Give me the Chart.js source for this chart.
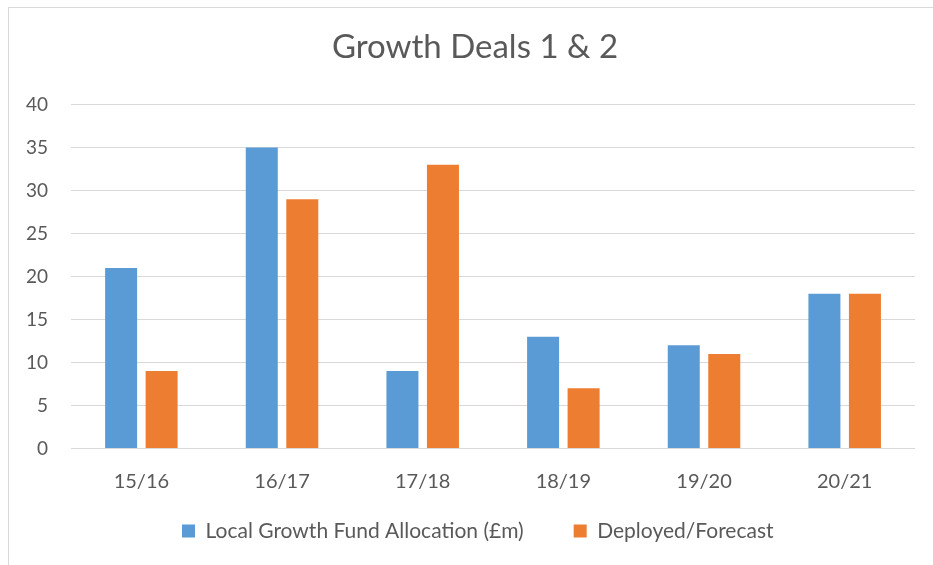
<!DOCTYPE html>
<html>
<head>
<meta charset="utf-8">
<script src="https://cdn.jsdelivr.net/npm/chart.js@4/dist/chart.umd.min.js"></script>
<style>
  html, body { margin: 0; padding: 0; background: #fff; }
  #frame { position: absolute; left: 8px; top: 7px; width: 1000px; height: 700px; border: 1px solid #d9d9d9; }
  #wrap { position: absolute; left: 0; top: 0; width: 933px; height: 565px; }
</style>
</head>
<body>
<div id="frame"></div>
<div id="wrap"><canvas id="chart" width="933" height="565"></canvas></div>
<script>
// Daten aus dem Diagramm
const labels = ["15/16", "16/17", "17/18", "18/19", "19/20", "20/21"];
const allocation = [21, 35, 9, 13, 12, 18];
const deployed = [9, 29, 33, 7, 11, 18];
const yTicks = [0, 5, 10, 15, 20, 25, 30, 35, 40];

const textColor = "#595959";
const gridColor = "#d9d9d9";
const fontName = "Lato, 'Open Sans', sans-serif";
const legendFont = 21;
const legendGap = 50;

// Legende und Titel verschieben wie im Original
const boxShift = {
  id: "boxShift",
  afterLayout(chart) {
    const tb = chart.titleBlock;
    if (tb) {
      const d = 475 - (tb.left + tb.right) / 2;
      tb.left += d;
      tb.right += d;
    }
    const lg = chart.legend;
    lg.options.labels.padding = legendGap;   // Abstand zwischen den Einträgen
    lg.left = 182 - legendGap;
    lg.right = 933;
    lg.top = 531 - legendGap - legendFont / 2;
    lg.bottom = 565;
  }
};

const ctx = document.getElementById("chart").getContext("2d");
new Chart(ctx, {
  type: "bar",
  data: {
    labels: labels,
    datasets: [
      { label: "Local Growth Fund Allocation (£m)", data: allocation, backgroundColor: "#5b9bd5" },
      { label: "Deployed/Forecast", data: deployed, backgroundColor: "#ed7d31" }
    ]
  },
  options: {
    responsive: false,
    animation: false,
    categoryPercentage: 0.576,
    barPercentage: 0.79,
    layout: { padding: { left: 3, right: 18, top: 28, bottom: 8.5 } },
    plugins: {
      title: {
        display: true,
        text: "Growth Deals 1 & 2",
        color: textColor,
        font: { family: fontName, size: 33, weight: "normal" },
        padding: { top: 0, bottom: 37 }
      },
      legend: {
        position: "bottom",
        align: "start",
        labels: {
          color: textColor,
          font: { family: fontName, size: legendFont },
          boxWidth: 13,
          boxHeight: 13,
          padding: 19
        }
      },
      tooltip: { enabled: false }
    },
    scales: {
      x: {
        grid: { display: false },
        border: { display: false },
        ticks: { color: textColor, font: { family: fontName, size: 20 }, padding: 13 }
      },
      y: {
        min: 0,
        max: 40,
        afterBuildTicks(axis) { axis.ticks = yTicks.map(v => ({ value: v })); },
        grid: { color: gridColor, lineWidth: 1, drawTicks: false },
        border: { display: false },
        ticks: { color: textColor, font: { family: fontName, size: 19 }, padding: 23 }
      }
    }
  },
  plugins: [boxShift]
});
</script>
</body>
</html>
